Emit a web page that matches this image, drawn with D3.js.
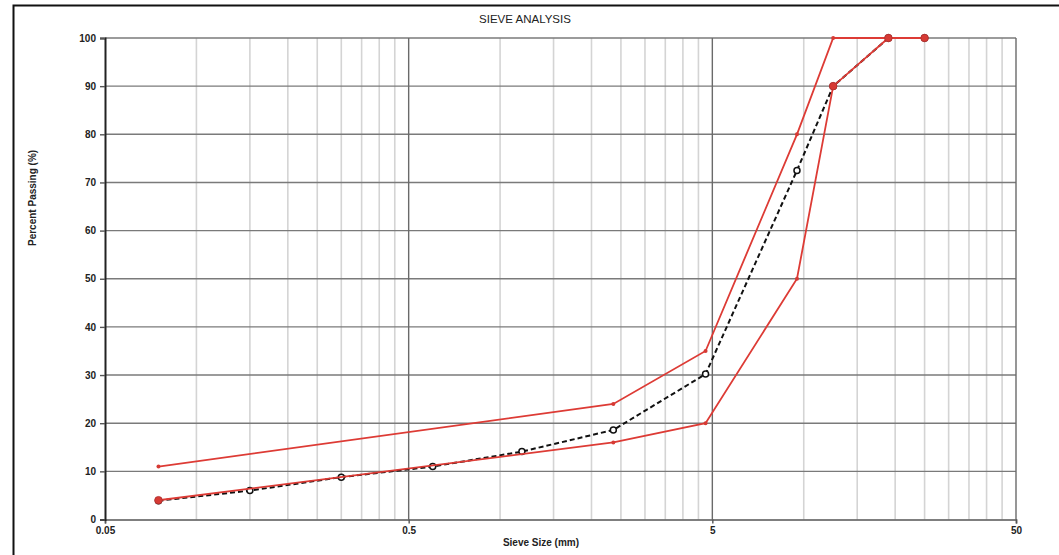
<!DOCTYPE html>
<html>
<head>
<meta charset="utf-8">
<script src="https://cdn.jsdelivr.net/npm/d3@7"></script>
<style>
body { margin: 0; background: #fff; }
text { font-family: "Liberation Sans", Arial, sans-serif; fill: #222; }
</style>
</head>
<body>
<div id="chart-area"></div>
<script>
// Data
var sieveSample = [0.075, 0.15, 0.3, 0.6, 1.18, 2.36, 4.75, 9.5, 12.5, 19, 25];
var passSample = [3.9, 6, 8.8, 11, 14.1, 18.6, 30.2, 72.5, 90, 100, 100];

var sieveUpper = [0.075, 2.36, 4.75, 9.5, 12.5, 19, 25];
var passUpper = [11, 24, 35, 80, 100, 100, 100];

var sieveLower = [0.075, 2.36, 4.75, 9.5, 12.5, 19, 25];
var passLower = [4, 16, 20, 50, 90, 100, 100];

// sieves where the limit marker is drawn large
var bigMarkers = [0.075, 12.5, 19, 25];

var yTicks = [0, 10, 20, 30, 40, 50, 60, 70, 80, 90, 100];
var xTicks = [0.05, 0.5, 5, 50];

var width = 1059;
var height = 555;

var svg = d3.select("#chart-area").append("svg")
	.attr("width", width)
	.attr("height", height);

// outer frame
svg.append("path")
	.attr("d", "M13.5,560 L13.5,5.5 L1070,5.5")
	.attr("fill", "none")
	.attr("stroke", "#111")
	.attr("stroke-width", 2);

// Scales
var x = d3.scaleLog()
	.domain([0.05, 50])
	.range([105, 1016]);

var y = d3.scaleLinear()
	.domain([0, 100])
	.range([519.5, 38]);

var grid = svg.append("g");

// minor vertical grid
var minor = [];
[0.05, 0.5, 5].forEach((d) => {
	for (var k = 2; k <= 9; k++) minor.push(d * k);
});

grid.selectAll(".minor")
	.data(minor)
	.enter().append("line")
	.attr("x1", (d) => x(d))
	.attr("x2", (d) => x(d))
	.attr("y1", y(0))
	.attr("y2", y(100))
	.attr("stroke", "#d4d4d4")
	.attr("stroke-width", 1.6);

// horizontal grid
grid.selectAll(".hgrid")
	.data(yTicks.slice(1))
	.enter().append("line")
	.attr("x1", x(0.05))
	.attr("x2", x(50))
	.attr("y1", (d) => y(d))
	.attr("y2", (d) => y(d))
	.attr("stroke", "#7a7a7a")
	.attr("stroke-width", 1.4);

// major vertical grid
grid.selectAll(".major")
	.data([0.5, 5, 50])
	.enter().append("line")
	.attr("x1", (d) => x(d))
	.attr("x2", (d) => x(d))
	.attr("y1", y(0))
	.attr("y2", y(100))
	.attr("stroke", "#6a6a6a")
	.attr("stroke-width", 1.4);

// Axes
var xAxisCall = d3.axisBottom(x)
	.tickValues(xTicks)
	.tickFormat((d) => d)
	.tickSize(4)
	.tickPadding(3);

var yAxisCall = d3.axisLeft(y)
	.tickValues(yTicks)
	.tickSize(5)
	.tickPadding(4);

var xAxisGroup = svg.append("g")
	.attr("transform", "translate(0, " + y(0) + ")")
	.call(xAxisCall);

var yAxisGroup = svg.append("g")
	.attr("transform", "translate(" + x(0.05) + ", 0)")
	.call(yAxisCall);

xAxisGroup.select(".domain").attr("stroke", "#555").attr("stroke-width", 1.6);
yAxisGroup.select(".domain").attr("stroke", "#222").attr("stroke-width", 2);
svg.selectAll(".tick line").attr("stroke", "#555").attr("stroke-width", 1.4);
svg.selectAll(".tick text")
	.style("font-family", "'Liberation Sans', Arial, sans-serif")
	.style("font-size", "10px")
	.style("font-weight", "bold")
	.attr("fill", "#333");

// Lines
var line = d3.line()
	.x((d) => x(d[0]))
	.y((d) => y(d[1]));

var sample = d3.zip(sieveSample, passSample);
var upper = d3.zip(sieveUpper, passUpper);
var lower = d3.zip(sieveLower, passLower);

svg.append("path")
	.datum(sample)
	.attr("d", line)
	.attr("fill", "none")
	.attr("stroke", "#111")
	.attr("stroke-width", 2)
	.attr("stroke-dasharray", "5,3");

svg.selectAll(".sampleDot")
	.data(sample)
	.enter().append("circle")
	.attr("cx", (d) => x(d[0]))
	.attr("cy", (d) => y(d[1]))
	.attr("r", 3)
	.attr("fill", "#fff")
	.attr("stroke", "#111")
	.attr("stroke-width", 1.5);

[upper, lower].forEach((series, i) => {
	svg.append("path")
		.datum(series)
		.attr("d", line)
		.attr("fill", "none")
		.attr("stroke", "#dd3b35")
		.attr("stroke-width", 1.8);

	svg.selectAll(".limitDot" + i)
		.data(series)
		.enter().append("circle")
		.attr("cx", (d) => x(d[0]))
		.attr("cy", (d) => y(d[1]))
		.attr("r", (d) => (i == 1 && bigMarkers.indexOf(d[0]) >= 0) ? 3.8 : 2)
		.attr("fill", "#d63a34")
		.attr("stroke", (d) => (i == 1 && bigMarkers.indexOf(d[0]) >= 0) ? "#b03030" : "none")
		.attr("stroke-width", 0.8);
});

// Title
svg.append("text")
	.attr("x", 525)
	.attr("y", 23)
	.attr("text-anchor", "middle")
	.style("font-size", "11.5px")
	.text("SIEVE ANALYSIS");

// x label
svg.append("text")
	.attr("x", 541)
	.attr("y", 546)
	.attr("text-anchor", "middle")
	.style("font-size", "10px")
	.style("font-weight", "bold")
	.text("Sieve Size (mm)");

// y label
svg.append("text")
	.attr("transform", "translate(36, 246) rotate(-90)")
	.attr("text-anchor", "start")
	.style("font-size", "10px")
	.style("font-weight", "bold")
	.text("Percent Passing (%)");
</script>
</body>
</html>
